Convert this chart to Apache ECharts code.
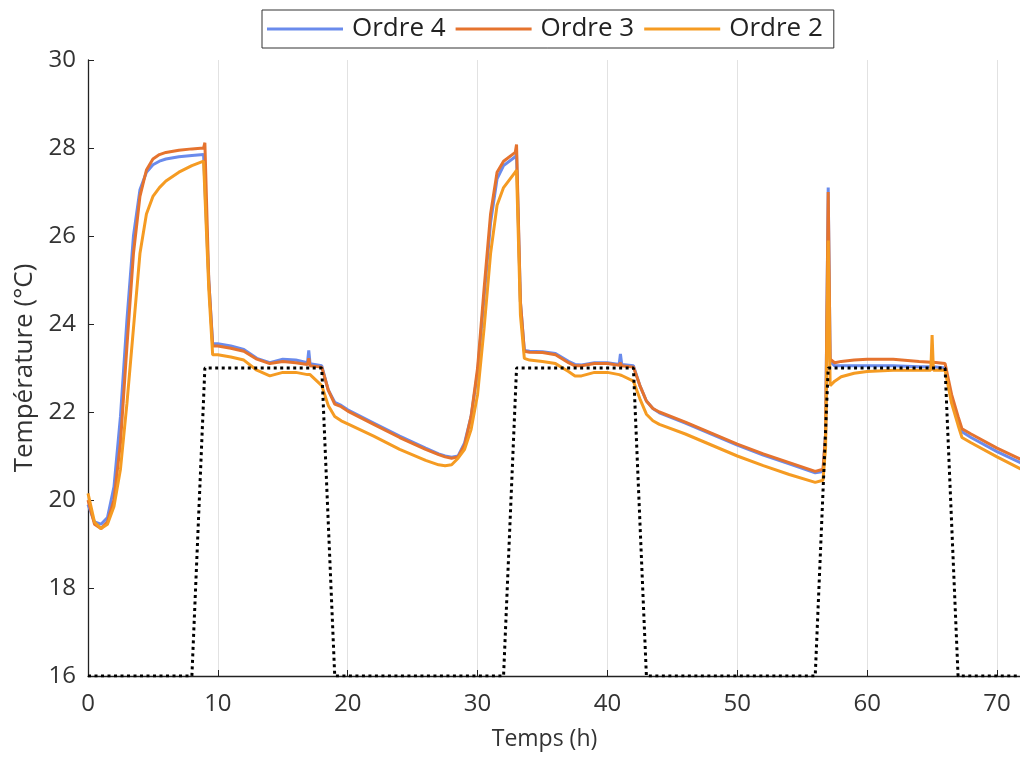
<!DOCTYPE html>
<html>
<head>
<meta charset="utf-8">
<script src="https://cdn.jsdelivr.net/npm/echarts@6/dist/echarts.min.js"></script>
<style>html,body{margin:0;padding:0;background:#fff;overflow:hidden;width:1020px;height:758px;}#chart{width:1026px;height:758px;}</style>
</head>
<body>
<div id="chart"></div>
<script>
const hours = [
  0, 0.5, 1, 1.5, 2, 2.5, 3, 3.5, 4, 4.5, 5, 5.5, 6, 7, 8, 8.9, 9.0, 9.3, 9.6,
  10, 11, 12, 13, 14, 15, 16, 16.9, 17.0, 17.1, 18, 18.5, 19, 19.5, 20, 22, 24, 26, 27, 27.5, 28,
  28.5, 29, 29.5, 30, 30.5, 31, 31.5, 32, 32.9, 33.0, 33.3, 33.6,
  34, 35, 36, 37, 37.5, 38, 39, 40, 40.9, 41.0, 41.1, 42, 42.5, 43, 43.5, 44, 46, 48, 50, 52, 54, 56,
  56.6, 56.8, 57.0, 57.15, 57.5, 58, 59, 60, 62, 64, 64.9, 65.0, 65.1, 66, 66.5, 67, 67.3, 68, 70, 72
];
const ordre4 = [
  19.9, 19.5, 19.45, 19.6, 20.3, 21.9, 24.1, 26.0, 27.05, 27.45, 27.62, 27.7, 27.75, 27.8, 27.83, 27.85, 27.88, 25.0, 23.55,
  23.55, 23.5, 23.42, 23.22, 23.12, 23.2, 23.18, 23.12, 23.4, 23.1, 23.05, 22.5, 22.22, 22.15, 22.05, 21.75, 21.45, 21.18, 21.05, 21.0, 20.97,
  21.0, 21.3, 21.9, 22.9, 24.6, 26.3, 27.3, 27.6, 27.8, 27.85, 24.5, 23.4,
  23.38, 23.37, 23.33, 23.15, 23.08, 23.07, 23.12, 23.12, 23.08, 23.32, 23.08, 23.05, 22.6, 22.25, 22.08, 21.98, 21.75, 21.5, 21.25, 21.02, 20.82, 20.62,
  20.65, 21.5, 27.1, 23.15, 23.05, 23.05, 23.05, 23.05, 23.05, 23.03, 23.03, 23.05, 23.03, 23.0, 22.3, 21.8, 21.55, 21.42, 21.1, 20.82
];
const ordre3 = [
  20.0, 19.45, 19.35, 19.5, 20.0, 21.3, 23.5, 25.6, 26.9, 27.5, 27.75, 27.85, 27.9, 27.95, 27.98, 28.0, 28.12, 25.0, 23.5,
  23.5, 23.45, 23.38, 23.2, 23.1, 23.15, 23.12, 23.08, 23.22, 23.05, 23.02, 22.5, 22.18, 22.12, 22.02, 21.72, 21.42, 21.15, 21.03, 20.98, 20.95,
  20.98, 21.25, 21.9, 23.0, 24.8, 26.5, 27.45, 27.7, 27.9, 28.08, 24.5, 23.38,
  23.36, 23.35, 23.3, 23.12, 23.05, 23.05, 23.1, 23.1, 23.06, 23.12, 23.05, 23.02, 22.6, 22.25, 22.08, 22.0, 21.77, 21.52, 21.27, 21.05, 20.85, 20.65,
  20.7, 21.5, 27.0, 23.2, 23.12, 23.15, 23.18, 23.2, 23.2, 23.15, 23.13, 23.18, 23.13, 23.1, 22.4, 21.9, 21.62, 21.5, 21.18, 20.9
];
const ordre2 = [
  20.15, 19.5, 19.35, 19.45, 19.85, 20.7, 22.2, 23.9, 25.6, 26.5, 26.9, 27.1, 27.25, 27.45, 27.6, 27.7, 27.72, 24.8, 23.3,
  23.3, 23.25, 23.18, 22.95, 22.82, 22.9, 22.9, 22.85, 22.87, 22.85, 22.6, 22.15, 21.9, 21.8, 21.73, 21.45, 21.15, 20.9, 20.8, 20.78, 20.8,
  20.95, 21.15, 21.6, 22.4, 23.9, 25.6, 26.7, 27.1, 27.45, 27.5, 24.2, 23.22,
  23.18, 23.15, 23.1, 22.92, 22.82, 22.82, 22.9, 22.9, 22.85, 22.85, 22.83, 22.7, 22.3, 21.95, 21.8, 21.72, 21.5, 21.25, 21.0, 20.78, 20.58, 20.4,
  20.45, 21.2, 25.9, 22.6, 22.7, 22.8, 22.88, 22.92, 22.95, 22.95, 22.95, 23.75, 22.95, 22.95, 22.2, 21.7, 21.42, 21.3, 20.98, 20.68
];
const setpointHours = [0, 8, 9, 18, 19, 32, 33, 42, 43, 56, 57, 66, 67, 72];
const setpointValues = [16, 16, 23, 23, 16, 16, 23, 23, 16, 16, 23, 23, 16, 16];

const seriesNames = ['Ordre 4', 'Ordre 3', 'Ordre 2'];
const seriesColors = ['#6a8bec', '#e5732e', '#f59b22'];
const seriesValues = [ordre4, ordre3, ordre2];

const pairs = (xs, ys) => xs.map((x, i) => [x, ys[i]]);
const FONT = 'Open Sans';

const chart = echarts.init(document.getElementById('chart'), null, {renderer: 'canvas'});
const series = seriesNames.map((name, k) => ({
  name: name,
  type: 'line',
  data: pairs(hours, seriesValues[k]),
  showSymbol: false,
  symbol: 'none',
  color: seriesColors[k],
  lineStyle: {width: 3, color: seriesColors[k]},
  z: 2 + k
}));
series.push({
  name: 'Consigne',
  type: 'line',
  data: pairs(setpointHours, setpointValues),
  showSymbol: false,
  symbol: 'none',
  color: '#000',
  lineStyle: {width: 3, color: '#000', type: [3, 3.5]},
  z: 10
});

chart.setOption({
  animation: false,
  backgroundColor: '#fff',
  textStyle: {fontFamily: FONT},
  legend: {
    data: seriesNames,
    left: 262, top: 10,
    padding: [4, 9, 4, 5],
    itemGap: 8,
    icon: 'rect',
    itemWidth: 76, itemHeight: 3,
    borderColor: '#333', borderWidth: 1,
    textStyle: {fontSize: 26, lineHeight: 30, color: '#222', fontFamily: FONT, padding: [0, 2, 0, 4]}
  },
  grid: {left: 88, width: 936, top: 60, bottom: 82, containLabel: false},
  xAxis: {
    type: 'value', min: 0, max: 72, interval: 10,
    name: 'Temps (h)', nameLocation: 'middle', nameGap: 52,
    nameTextStyle: {fontSize: 23, color: '#333', fontFamily: FONT, padding: [0, 22, 0, 0]},
    axisLine: {show: true, lineStyle: {color: '#222', width: 1.3}},
    axisTick: {show: true, inside: true, length: 6, lineStyle: {color: '#222'}},
    axisLabel: {fontSize: 24, color: '#333', margin: 16, fontFamily: FONT,
      formatter: v => (v % 10 === 0 ? String(v) : '')},
    splitLine: {show: true, lineStyle: {color: '#e2e2e2', width: 1}}
  },
  yAxis: {
    type: 'value', min: 16, max: 30, interval: 2,
    name: 'Température (°C)', nameLocation: 'middle', nameGap: 50,
    nameTextStyle: {fontSize: 26, color: '#333', fontFamily: FONT},
    axisLine: {show: true, lineStyle: {color: '#222', width: 1.3}},
    axisTick: {show: true, inside: true, length: 6, lineStyle: {color: '#222'}},
    axisLabel: {fontSize: 24, color: '#333', margin: 12, fontFamily: FONT},
    splitLine: {show: false}
  },
  series: series
});
</script>
</body>
</html>
